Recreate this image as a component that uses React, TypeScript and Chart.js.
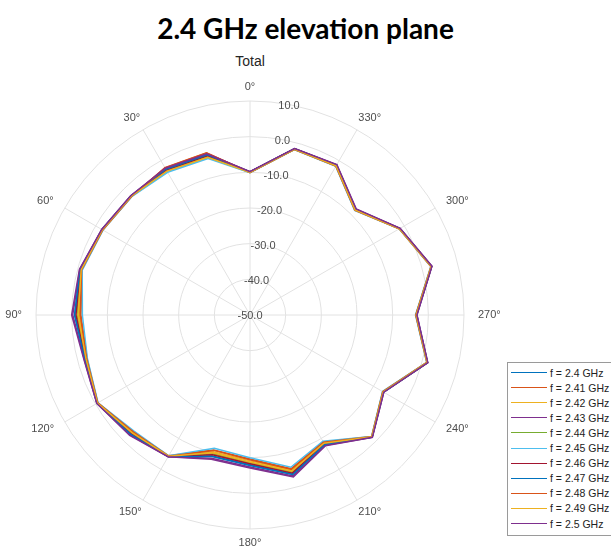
import React, { useEffect, useRef } from "react";
import { Chart, registerables } from "chart.js";

Chart.register(...registerables);

// Elevation angles (deg, MATLAB polar convention: 0° at top, counter-clockwise)
const anglesDeg = [0, 15, 30, 45, 60, 75, 90, 105, 120, 135, 150, 165, 180, 195, 210, 225, 240, 255, 270, 285, 300, 315, 330, 345];
const angleTickLabels = [0, 30, 60, 90, 120, 150, 180, 210, 240, 270, 300, 330];
const radialTicks = [-50, -40, -30, -20, -10, 0, 10];

const freqLabels = [
  "f = 2.4 GHz", "f = 2.41 GHz", "f = 2.42 GHz", "f = 2.43 GHz", "f = 2.44 GHz", "f = 2.45 GHz",
  "f = 2.46 GHz", "f = 2.47 GHz", "f = 2.48 GHz", "f = 2.49 GHz", "f = 2.5 GHz",
];
const lineColors = [
  "#0072BD", "#D95319", "#EDB120", "#7E2F8E", "#77AC30", "#4DBEEE",
  "#A2142F", "#0072BD", "#D95319", "#EDB120", "#7E2F8E",
];

// Gain (dB) per angle, one array per frequency
const g2400 = [-9.9, -3.6, -2.9, -2.8, -2.1, -0.7, -0.9, -2.1, -0.5, -2.8, -4.2, -9.1, -8.0, -3.8, -8.1, -1.6, -6.8, 1.5, -3.3, 2.7, -1.5, -8.1, -1.5, -1.8];
const g2410 = [-10.1, -2.9, -2.3, -3.0, -2.3, -1.2, -2.6, -2.7, -0.7, -3.7, -4.4, -10.8, -9.6, -5.4, -8.9, -1.8, -7.0, 1.3, -3.5, 2.5, -1.7, -8.4, -1.8, -2.0];
const g2420 = [-10.0, -4.3, -3.5, -3.0, -2.3, -1.1, -2.1, -2.5, -0.7, -3.5, -4.3, -10.3, -9.1, -5.0, -8.7, -1.7, -7.0, 1.4, -3.5, 2.6, -1.6, -8.3, -1.7, -1.9];
const g2430 = [-9.8, -3.2, -2.6, -2.7, -2.0, -0.6, -0.3, -1.9, -0.4, -2.5, -4.1, -8.4, -7.4, -3.3, -7.8, -1.5, -6.7, 1.6, -3.2, 2.8, -1.4, -8.0, -1.4, -1.7];
const g2440 = [-10.0, -3.9, -3.2, -2.9, -2.2, -0.9, -1.5, -2.3, -0.6, -3.2, -4.3, -9.7, -8.6, -4.4, -8.4, -1.7, -6.9, 1.5, -3.4, 2.7, -1.6, -8.2, -1.6, -1.9];
const g2450 = [-10.1, -4.6, -3.8, -3.1, -2.4, -1.3, -3.0, -2.8, -0.8, -4.0, -4.4, -11.3, -10.0, -5.8, -9.1, -1.8, -7.1, 1.3, -3.6, 2.5, -1.7, -8.5, -1.9, -2.0];
const g2460 = [-9.9, -3.8, -3.1, -2.9, -2.2, -0.8, -1.2, -2.2, -0.6, -3.0, -4.2, -9.4, -8.3, -4.1, -8.3, -1.6, -6.9, 1.5, -3.4, 2.7, -1.5, -8.1, -1.5, -1.8];
const g2470 = [-9.9, -3.5, -2.8, -2.8, -2.1, -0.7, -0.8, -2.1, -0.5, -2.7, -4.2, -8.9, -7.8, -3.7, -8.1, -1.6, -6.8, 1.5, -3.3, 2.7, -1.5, -8.1, -1.5, -1.8];
const g2480 = [-10.0, -3.0, -2.4, -3.0, -2.3, -1.1, -2.4, -2.6, -0.7, -3.7, -4.3, -10.7, -9.4, -5.2, -8.8, -1.7, -7.0, 1.4, -3.5, 2.6, -1.6, -8.4, -1.8, -1.9];
const g2490 = [-10.0, -4.2, -3.4, -2.9, -2.2, -1.0, -1.8, -2.4, -0.6, -3.3, -4.3, -10.0, -8.8, -4.7, -8.5, -1.7, -6.9, 1.4, -3.4, 2.6, -1.6, -8.3, -1.7, -1.9];
const g2500 = [-9.8, -3.2, -2.5, -2.7, -2.0, -0.5, 0.0, -1.8, -0.4, -2.3, -4.1, -8.1, -7.1, -3.0, -7.7, -1.5, -6.7, 1.6, -3.2, 2.8, -1.4, -7.9, -1.3, -1.7];

const seriesValues = [g2400, g2410, g2420, g2430, g2440, g2450, g2460, g2470, g2480, g2490, g2500];

// Chart.js radar runs clockwise from the top, so order the categories 0, 345, 330, ... 15
const chartAngles = anglesDeg.map((_, i) => (360 - anglesDeg[i]) % 360);

const GRID = "#e2e2e2";
const TEXT = "#4d4d4d";
const FONT = '"Liberation Sans", Arial, sans-serif';

const polarText = {
  id: "polarText",
  afterDraw(chart: any) {
    const s = chart.scales.r;
    const ctx = chart.ctx;
    ctx.save();
    ctx.font = `11px ${FONT}`;
    ctx.fillStyle = TEXT;
    ctx.textAlign = "center";
    ctx.textBaseline = "middle";
    const labelDist = s.drawingArea + 14;
    angleTickLabels.forEach((a) => {
      const idx = chartAngles.indexOf(a);
      const p = s.getPointPosition(idx, labelDist);
      const text = `${a}°`;
      const w = ctx.measureText(text).width;
      const dir = (p.x - s.xCenter) / labelDist;
      ctx.fillText(text, p.x + (dir * w) / 2, p.y);
    });
    const th = (10.5 * Math.PI) / 180;
    radialTicks.forEach((v) => {
      const r = s.getDistanceFromCenterForValue(v);
      ctx.fillText(v.toFixed(1), s.xCenter + r * Math.sin(th), s.yCenter - r * Math.cos(th) + 1);
    });
    ctx.restore();
  },
};

export default function App() {
  const canvasRef = useRef<HTMLCanvasElement | null>(null);

  useEffect(() => {
    if (!canvasRef.current) return;
    const datasets = seriesValues.map((vals, i) => ({
      label: freqLabels[i],
      data: chartAngles.map((a) => vals[anglesDeg.indexOf(a)]),
      borderColor: lineColors[i],
      backgroundColor: lineColors[i],
      borderWidth: 1.5,
      pointRadius: 0,
      pointHoverRadius: 0,
      fill: false,
      tension: 0,
      order: seriesValues.length - 1 - i,
    }));
    const chart = new Chart(canvasRef.current, {
      type: "radar",
      data: { labels: chartAngles.map((a) => `${a}°`), datasets },
      options: {
        responsive: false,
        animation: false,
        devicePixelRatio: 1,
        layout: { padding: { left: 36, top: 101, right: 147, bottom: 20 } },
        plugins: { legend: { display: false }, tooltip: { enabled: false }, title: { display: false } },
        scales: {
          r: {
            min: -50,
            max: 10,
            beginAtZero: false,
            ticks: { display: false, stepSize: 10 },
            pointLabels: { display: false },
            grid: { circular: true, color: GRID, lineWidth: 1 },
            angleLines: {
              display: true,
              lineWidth: 1,
              color: (c: any) => (chartAngles[c.index] % 30 === 0 ? GRID : "rgba(0,0,0,0)"),
            },
          },
        },
      },
      plugins: [polarText],
    });
    return () => chart.destroy();
  }, []);

  return (
    <div style={{ position: "fixed", left: 0, top: 0, width: 611, height: 549, overflow: "hidden", background: "#fff" }}>
      <div
        style={{
          position: "absolute", left: 0, top: 13, width: 611, textAlign: "center",
          font: '700 28px Lato, "Open Sans", sans-serif', lineHeight: "30px", color: "#000",
        }}
      >
        2.4 GHz elevation plane
      </div>
      <div
        style={{
          position: "absolute", left: 200, top: 53, width: 100, textAlign: "center",
          font: `14px ${FONT}`, lineHeight: "16px", color: "#262626",
        }}
      >
        Total
      </div>
      <canvas ref={canvasRef} width={611} height={549} style={{ position: "absolute", left: 0, top: 0 }} />
      <div
        style={{
          position: "absolute", left: 507, top: 362, width: 130, height: 174,
          border: "1px solid #9a9a9a", background: "#fff", boxSizing: "border-box",
        }}
      >
        {freqLabels.map((lab, i) => (
          <div key={lab} style={{ position: "absolute", left: 3, top: 2 + i * 15.1, height: 15, display: "flex", alignItems: "center" }}>
            <div style={{ width: 36, height: 0, borderTop: `1.5px solid ${lineColors[i]}` }} />
            <span style={{ marginLeft: 3, font: `10.5px ${FONT}`, color: "#222", whiteSpace: "nowrap" }}>{lab}</span>
          </div>
        ))}
      </div>
    </div>
  );
}
